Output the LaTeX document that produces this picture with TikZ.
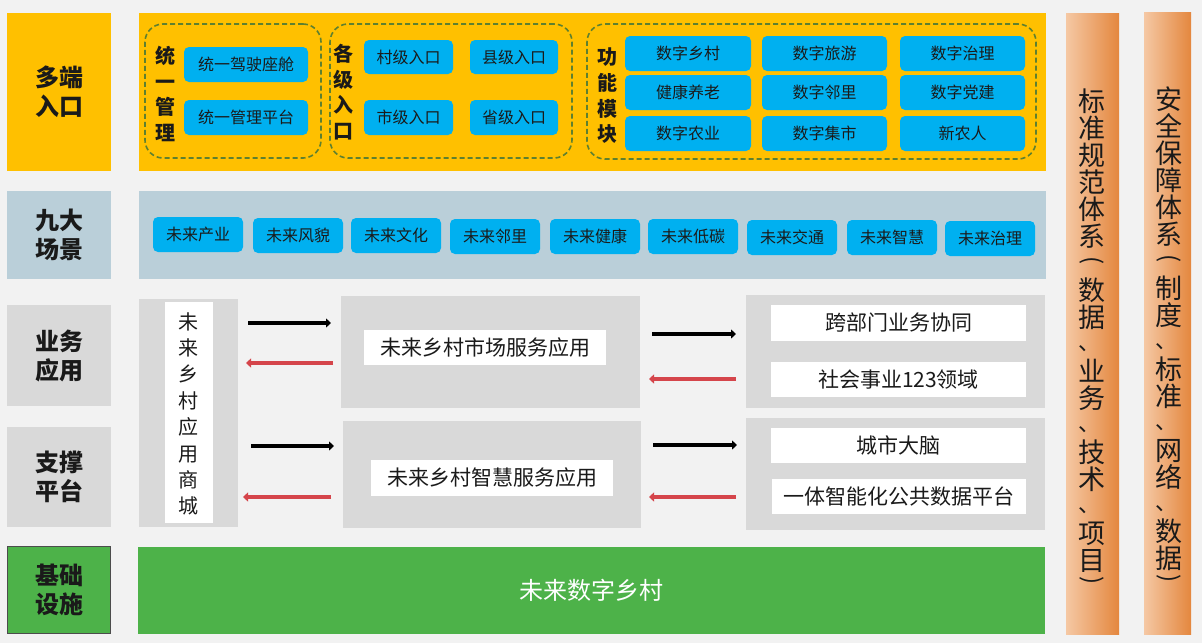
\documentclass[tikz,border=0pt]{standalone}
\usepackage{fontspec}
\setmainfont{Noto Sans CJK SC}
\usetikzlibrary{arrows.meta}
\definecolor{bgc}{HTML}{F2F2F2}
\definecolor{gold}{HTML}{FFC000}
\definecolor{skyb}{HTML}{00B0F0}
\definecolor{lblue}{HTML}{BACFD9}
\definecolor{lgray}{HTML}{D9D9D9}
\definecolor{grn}{HTML}{4DB249}
\definecolor{olive}{HTML}{5E8030}
\definecolor{redarr}{HTML}{D5454B}
\definecolor{orL}{HTML}{F5C8A4}
\definecolor{orR}{HTML}{E4873E}
\definecolor{txt}{HTML}{1A1A1A}
\newcommand{\vgap}{\phantom{系}}
\newcommand{\vcm}{\rlap{\raisebox{4pt}{\fontsize{22}{22}\selectfont 、}}\phantom{系}}
\tikzset{
  x=1pt, y=-1pt,
  box/.style={inner sep=0pt, outer sep=0pt, anchor=north west, text=txt},
  lab/.style={box, align=center, font=\fontsize{24}{29}\selectfont\bfseries},
  bluebox/.style={box, fill=skyb, rounded corners=5pt, font=\fontsize{16}{18}\selectfont},
  whitebox/.style={box, fill=white, font=\fontsize{21}{24}\selectfont},
  graybox/.style={box, fill=lgray},
  grp/.style={box, draw=olive, dash pattern=on 5pt off 3pt, line width=1.6pt, rounded corners=18pt},
  vlab/.style={inner sep=0pt, align=center, text=txt, font=\fontsize{20}{25.7}\selectfont\bfseries},
  pillar/.style={box, left color=orL, right color=orR, shading angle=90},
  ptext/.style={inner sep=0pt, align=center, text=txt, font=\fontsize{27}{27}\selectfont},
  pparen/.style={inner sep=0pt, rotate=-90, text=txt, font=\fontsize{24}{24}\selectfont},
  blkarr/.style={line width=4pt, black, -{Triangle[length=5pt,width=9pt]}},
  redar/.style={line width=4pt, redarr, -{Triangle[length=5pt,width=9pt]}}
}
\begin{document}
\begin{tikzpicture}
\fill[bgc] (0,0) rectangle (1202,643);
\useasboundingbox (0,0) rectangle (1202,643);

% left labels
\node[lab, fill=gold, minimum width=104pt, minimum height=158pt] (L1) at (7,13) {多端\\入口};
\node[lab, fill=lblue, minimum width=104pt, minimum height=88pt] (L2) at (7,191) {九大\\场景};
\node[lab, fill=lgray, minimum width=104pt, minimum height=101pt] (L3) at (7,305) {业务\\应用};
\node[lab, fill=lgray, minimum width=104pt, minimum height=100pt] (L4) at (7,427) {支撑\\平台};
\node[lab, fill=grn, draw=black!70, line width=1pt, minimum width=103pt, minimum height=87pt] (L5) at (7.5,546.5) {基础\\设施};

% main bands
\node[box, fill=gold, minimum width=907pt, minimum height=158pt] (M1) at (139,13) {};
\node[box, fill=lblue, minimum width=907pt, minimum height=88pt] (M2) at (139,191) {};

% groups
\node[grp, minimum width=176pt, minimum height=134pt] (G1) at (145,24) {};
\node[grp, minimum width=242pt, minimum height=134pt] (G2) at (330,24) {};
\node[grp, minimum width=449pt, minimum height=135pt] (G3) at (587,24) {};
\node[vlab] (G1l) at (165,94) {统\\一\\管\\理};
\node[vlab] (G2l) at (343,92) {各\\级\\入\\口};
\node[vlab] (G3l) at (607,96) {功\\能\\模\\块};

\node[bluebox, minimum width=124pt, minimum height=35pt] (u1) at (184,47) {统一驾驶座舱};
\node[bluebox, minimum width=124pt, minimum height=35pt] (u2) at (184,100) {统一管理平台};

\node[bluebox, minimum width=89pt, minimum height=34pt] (e1) at (364,40) {村级入口};
\node[bluebox, minimum width=88pt, minimum height=34pt] (e2) at (470,40) {县级入口};
\node[bluebox, minimum width=89pt, minimum height=35pt] (e3) at (364,100) {市级入口};
\node[bluebox, minimum width=88pt, minimum height=35pt] (e4) at (470,100) {省级入口};

\node[bluebox, minimum width=126pt, minimum height=35pt] (f11) at (625,36) {数字乡村};
\node[bluebox, minimum width=125pt, minimum height=35pt] (f12) at (762,36) {数字旅游};
\node[bluebox, minimum width=125pt, minimum height=35pt] (f13) at (900,36) {数字治理};
\node[bluebox, minimum width=126pt, minimum height=35pt] (f21) at (625,75) {健康养老};
\node[bluebox, minimum width=125pt, minimum height=35pt] (f22) at (762,75) {数字邻里};
\node[bluebox, minimum width=125pt, minimum height=35pt] (f23) at (900,75) {数字党建};
\node[bluebox, minimum width=126pt, minimum height=35pt] (f31) at (625,116) {数字农业};
\node[bluebox, minimum width=125pt, minimum height=35pt] (f32) at (762,116) {数字集市};
\node[bluebox, minimum width=125pt, minimum height=35pt] (f33) at (900,116) {新农人};

% scenarios
\node[bluebox, minimum width=90pt, minimum height=35pt] (s1) at (153,217) {未来产业};
\node[bluebox, minimum width=90pt, minimum height=35pt] (s2) at (253,218) {未来风貌};
\node[bluebox, minimum width=90pt, minimum height=35pt] (s3) at (351,218) {未来文化};
\node[bluebox, minimum width=90pt, minimum height=35pt] (s4) at (450,219) {未来邻里};
\node[bluebox, minimum width=90pt, minimum height=35pt] (s5) at (550,219) {未来健康};
\node[bluebox, minimum width=90pt, minimum height=35pt] (s6) at (648,219) {未来低碳};
\node[bluebox, minimum width=90pt, minimum height=35pt] (s7) at (747,220) {未来交通};
\node[bluebox, minimum width=90pt, minimum height=35pt] (s8) at (847,220) {未来智慧};
\node[bluebox, minimum width=90pt, minimum height=35pt] (s9) at (945,221) {未来治理};

% application / platform rows
\node[graybox, minimum width=99pt, minimum height=228pt] (mallbg) at (139,299) {};
\node[box, fill=white, minimum width=48pt, minimum height=221pt] (mallw) at (165,302) {};
\node[inner sep=0pt, align=center, text=txt, font=\fontsize{20}{26.4}\selectfont] (mallt) at (188,414) {未\\来\\乡\\村\\应\\用\\商\\城};

\node[graybox, minimum width=299pt, minimum height=112pt] (mktbg) at (341,296) {};
\node[whitebox, minimum width=242pt, minimum height=35pt] (mkt) at (364,330) {未来乡村市场服务应用};
\node[graybox, minimum width=298pt, minimum height=107pt] (smtbg) at (343,421) {};
\node[whitebox, minimum width=242pt, minimum height=36pt] (smt) at (371,460) {未来乡村智慧服务应用};

\node[graybox, minimum width=299pt, minimum height=113pt] (r1bg) at (746,295) {};
\node[whitebox, minimum width=255pt, minimum height=36pt] (r11) at (771,305) {跨部门业务协同};
\node[whitebox, minimum width=255pt, minimum height=35pt] (r12) at (771,362) {社会事业123领域};
\node[graybox, minimum width=299pt, minimum height=112pt] (r2bg) at (746,418) {};
\node[whitebox, minimum width=255pt, minimum height=35pt] (r21) at (771,428) {城市大脑};
\node[whitebox, minimum width=254pt, minimum height=35pt] (r22) at (772,479) {一体智能化公共数据平台};

% arrows
\coordinate (a1s) at (248,323); \coordinate (a1e) at (331,323);
\coordinate (a2s) at (333,363); \coordinate (a2e) at (246,363);
\coordinate (a3s) at (251,446); \coordinate (a3e) at (334,446);
\coordinate (a4s) at (331,497); \coordinate (a4e) at (243,497);
\coordinate (a5s) at (652,334); \coordinate (a5e) at (736,334);
\coordinate (a6s) at (736,379); \coordinate (a6e) at (649,379);
\coordinate (a7s) at (653,445); \coordinate (a7e) at (737,445);
\coordinate (a8s) at (736,497); \coordinate (a8e) at (649,497);
\draw[blkarr] (a1s) -- (a1e);
\draw[redar] (a2s) -- (a2e);
\draw[blkarr] (a3s) -- (a3e);
\draw[redar] (a4s) -- (a4e);
\draw[blkarr] (a5s) -- (a5e);
\draw[redar] (a6s) -- (a6e);
\draw[blkarr] (a7s) -- (a7e);
\draw[redar] (a8s) -- (a8e);

% base
\node[box, fill=grn, text=white, font=\fontsize{24}{28}\selectfont, minimum width=907pt, minimum height=87pt] (base) at (138,547) {未来数字乡村};

% pillars
\node[pillar, minimum width=53pt, minimum height=621pt] (P1) at (1066,13) {};
\node[pillar, minimum width=47pt, minimum height=622pt] (P2) at (1144,12) {};
\node[ptext] (P1t) at (1092,344) {标\\准\\规\\范\\体\\系\\\vgap\\数\\据\\\vcm\\业\\务\\\vcm\\技\\术\\\vcm\\项\\目\\\vgap};
\node[ptext] (P2t) at (1169,342) {安\\全\\保\\障\\体\\系\\\vgap\\制\\度\\\vcm\\标\\准\\\vcm\\网\\络\\\vcm\\数\\据\\\vgap};
\node[pparen] (P1o) at (1092,261) {(};
\node[pparen] (P1c) at (1092,581) {)};
\node[pparen] (P2o) at (1169,259) {(};
\node[pparen] (P2c) at (1169,579) {)};
\end{tikzpicture}
\end{document}
